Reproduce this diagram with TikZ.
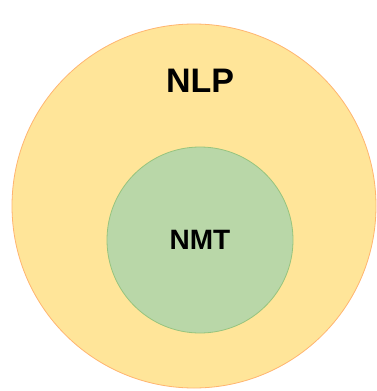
\documentclass[tikz,border=0pt]{standalone}
\usepackage{fontspec}
\setmainfont{Liberation Sans}
\definecolor{outerfill}{HTML}{FFE599}
\definecolor{outerline}{HTML}{FFB570}
\definecolor{innerfill}{HTML}{B9D7A8}
\definecolor{innerline}{HTML}{97C47E}
\begin{document}
\begin{tikzpicture}[x=1pt,y=-1pt,
  setcircle/.style={circle,inner sep=0pt,line width=0.8pt}]
\clip (0,0) rectangle (377,391);
\useasboundingbox (0,0) rectangle (377,391);
\fill[white] (0,0) rectangle (377,391);
\node[setcircle,draw=outerline,fill=outerfill,minimum size=364pt] (nlp) at (194,206) {};
\node[setcircle,draw=innerline,fill=innerfill,minimum size=186pt] (nmt) at (200,240) {};
\node[font=\fontsize{34}{40}\selectfont\bfseries] (nlplabel) at (200,81) {NLP};
\node[font=\fontsize{28}{34}\selectfont\bfseries] (nmtlabel) at (nmt.center) {NMT};
\end{tikzpicture}
\end{document}
